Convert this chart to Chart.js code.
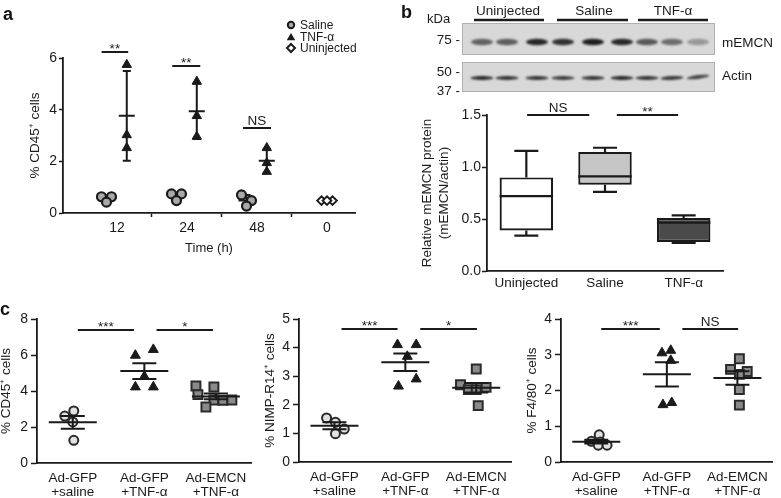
<!DOCTYPE html>
<html><head><meta charset="utf-8">
<script src="https://cdn.jsdelivr.net/npm/chart.js@4.4.1/dist/chart.umd.min.js"></script>
<style>
html,body{margin:0;padding:0;background:#fff;}
body{width:781px;height:498px;position:relative;overflow:hidden;}
canvas{position:absolute;}
.pl{position:absolute;z-index:5;font:bold 18px 'Liberation Sans',Arial,sans-serif;line-height:18px;color:#111;}
</style></head>
<body>
<canvas id="ca" width="390" height="262" style="left:0;top:0;width:390px;height:262px"></canvas>
<canvas id="cb" width="381" height="295" style="left:400px;top:0;width:381px;height:295px"></canvas>
<canvas id="c1" width="260" height="208" style="left:0;top:290px;width:260px;height:208px"></canvas>
<canvas id="c2" width="260" height="208" style="left:260px;top:290px;width:260px;height:208px"></canvas>
<canvas id="c3" width="261" height="208" style="left:520px;top:290px;width:261px;height:208px"></canvas>
<div class="pl" style="left:3px;top:5px">a</div>
<div class="pl" style="left:401px;top:3px">b</div>
<div class="pl" style="left:0px;top:300px">c</div>
<script>
// ---------------- DATA ----------------
// Panel a
const timeLabels = ['12', '24', '48', '0'];
const salineA = [[0.63, 0.63, 0.42], [0.74, 0.74, 0.48], [0.70, 0.48, 0.27], null];
const tnfA = [[5.74, 3.02, 2.52], [5.09, 3.76, 2.96], [2.52, 1.94, 1.60], null];
const uninjectedA = [null, null, null, [0.48, 0.48, 0.48]];
const legendA = ['Saline', 'TNF-α', 'Uninjected'];
const sigA = [
  {from: -0.22, to: 0.16, y: 6.24, text: '**'},
  {from: 0.79, to: 1.19, y: 5.69, text: '**'},
  {from: 1.80, to: 2.20, y: 3.29, text: 'NS'}
];

// Panel b
const boxCats = ['Uninjected', 'Saline', 'TNF-α'];
const boxMin = [0.34, 0.76, 0.27];
const boxQ1 = [0.39, 0.83, 0.28];
const boxMed = [0.72, 0.91, 0.465];
const boxQ3 = [0.90, 1.145, 0.51];
const boxMax = [1.155, 1.185, 0.535];
const sigB = [
  {from: 0.01, to: 0.80, y: 1.5, text: 'NS'},
  {from: 1.15, to: 1.93, y: 1.5, text: '**'}
];
const blotLaneLabels = ['Uninjected', 'Saline', 'TNF-α'];
const blotMarkers = ['75 -', '50 -', '37 -'];
const blotRows = ['mEMCN', 'Actin'];

// Panel c
const groupsC = [['Ad-GFP', '+saline'], ['Ad-GFP', '+TNF-α'], ['Ad-EMCN', '+TNF-α']];
const cd45Saline = [2.89, 2.61, 2.28, 1.26];
const cd45TNF = [6.30, 5.98, 4.81, 4.22, 4.22];
const cd45EMCN = [4.28, 4.22, 3.80, 3.50, 3.48, 3.50, 3.11];
const nimpSaline = [1.54, 1.39, 1.15, 0.99];
const nimpTNF = [4.10, 4.10, 3.69, 2.90, 2.65];
const nimpEMCN = [3.25, 2.70, 2.53, 2.53, 2.61, 1.97];
const f480Saline = [0.76, 0.58, 0.56, 0.47, 0.47];
const f480TNF = [3.05, 3.12, 2.84, 1.60, 1.66];
const f480EMCN = [2.89, 2.59, 2.53, 2.45, 2.03, 1.59];
const sigC1 = [{from: 0.07, to: 0.855, y: 7.37, text: '***'}, {from: 1.17, to: 1.96, y: 7.37, text: '*'}];
const sigC2 = [{from: 0.10, to: 0.89, y: 4.65, text: '***'}, {from: 1.21, to: 2.01, y: 4.65, text: '*'}];
const sigC3 = [{from: 0.07, to: 0.90, y: 3.72, text: '***'}, {from: 1.22, to: 2.01, y: 3.72, text: 'NS'}];

// ---------------- STYLE ----------------
const FONT = "'Liberation Sans', Arial, Helvetica, sans-serif";
const INK = '#1a1a1a';
Chart.defaults.font.family = FONT;
Chart.defaults.font.size = 13;
Chart.defaults.color = INK;
Chart.defaults.animation = false;
Chart.defaults.plugins.legend.display = false;
Chart.defaults.plugins.tooltip.enabled = false;

// horizontal jitter patterns (px) used only for drawing
const jitA = [-5, 5, 0];
const jitC1 = [[1, -8, 0, 1], [9, -9, 0, -9, 9], [-20, -2, -18, -2, 7, 16, -10]];
const jitC2 = [[-8, 1, 10, 1], [-8, 11, 2, 11, -7], [0, -16, -8, 0, 10, 2]];
const jitC3 = [[3, -5, 4, 2, 11], [-5, 4, 4, -4, 5], [2, -7, 10, 2, 2, 2]];

const mean = a => a.reduce((s, v) => s + v, 0) / a.length;
const sd = a => { const m = mean(a); return Math.sqrt(a.reduce((s, v) => s + (v - m) * (v - m), 0) / (a.length - 1)); };

function sigPlugin(list) {
  return {
    id: 'sig',
    afterDatasetsDraw(chart) {
      const {ctx, scales: {x, y}} = chart;
      ctx.save();
      ctx.strokeStyle = INK; ctx.fillStyle = INK; ctx.lineWidth = 2;
      list.forEach(s => {
        const x1 = x.getPixelForValue(s.from), x2 = x.getPixelForValue(s.to), yy = Math.round(y.getPixelForValue(s.y));
        ctx.beginPath(); ctx.moveTo(x1, yy); ctx.lineTo(x2, yy); ctx.stroke();
        ctx.font = '13.5px ' + FONT; ctx.textAlign = 'center'; ctx.textBaseline = 'alphabetic';
        const star = s.text.indexOf('*') >= 0;
        ctx.fillText(s.text, (x1 + x2) / 2, star ? yy + 1 : yy - 3);
      });
      ctx.restore();
    }
  };
}

function errPlugin(groups, when, halfMean, halfCap, useSem) {
  const hook = when === 'before' ? 'beforeDatasetsDraw' : 'afterDatasetsDraw';
  const p = {id: 'err'};
  p[hook] = function (chart) {
    const {ctx, scales: {x, y}} = chart;
    ctx.save(); ctx.strokeStyle = INK; ctx.lineWidth = 2;
    groups.forEach(g => {
      if (!g.vals) return;
      const m = mean(g.vals);
      let e = sd(g.vals); if (useSem) e = e / Math.sqrt(g.vals.length);
      const cx = x.getPixelForValue(g.x);
      const ym = y.getPixelForValue(m), yt = y.getPixelForValue(m + e), yb = y.getPixelForValue(m - e);
      ctx.beginPath();
      ctx.moveTo(cx, yt); ctx.lineTo(cx, yb);
      ctx.moveTo(cx - halfCap, yt); ctx.lineTo(cx + halfCap, yt);
      ctx.moveTo(cx - halfCap, yb); ctx.lineTo(cx + halfCap, yb);
      ctx.moveTo(cx - halfMean, ym); ctx.lineTo(cx + halfMean, ym);
      ctx.stroke();
    });
    ctx.restore();
  };
  return p;
}

// ---------------- PANEL A ----------------
(function () {
  const PX = 70; // px per group unit
  const offS = -0.15, offT = 0.14, offU = 0;
  function pts(groups, off, jit) {
    const out = [];
    groups.forEach((vals, gi) => { if (!vals) return; vals.forEach((v, k) => out.push({x: gi + off + (jit ? jit[k % jit.length] / PX : 0), y: v})); });
    return out;
  }
  const errGroups = [];
  salineA.forEach((v, i) => errGroups.push({x: i + offS, vals: v}));
  tnfA.forEach((v, i) => errGroups.push({x: i + offT, vals: v}));
  uninjectedA.forEach((v, i) => errGroups.push({x: i + offU, vals: v}));

  const legendPlugin = {
    id: 'legA',
    afterDraw(chart) {
      const ctx = chart.ctx;
      ctx.save();
      const rows = [25, 37, 48], sx = 291;
      ctx.lineWidth = 2; ctx.strokeStyle = INK;
      ctx.beginPath(); ctx.arc(sx, rows[0], 3.2, 0, Math.PI * 2); ctx.fillStyle = '#aaa'; ctx.fill(); ctx.stroke();
      ctx.beginPath(); ctx.moveTo(sx, rows[1] - 4); ctx.lineTo(sx + 4.3, rows[1] + 3.2); ctx.lineTo(sx - 4.3, rows[1] + 3.2); ctx.closePath(); ctx.fillStyle = INK; ctx.fill();
      ctx.beginPath(); ctx.moveTo(sx, rows[2] - 4); ctx.lineTo(sx + 4, rows[2]); ctx.lineTo(sx, rows[2] + 4); ctx.lineTo(sx - 4, rows[2]); ctx.closePath(); ctx.fillStyle = '#fff'; ctx.fill(); ctx.stroke();
      ctx.fillStyle = INK; ctx.font = '12px ' + FONT; ctx.textAlign = 'left'; ctx.textBaseline = 'middle';
      legendA.forEach((t, i) => ctx.fillText(t, sx + 9, rows[i] + 0.5));
      ctx.restore();
    }
  };

  new Chart(document.getElementById('ca'), {
    type: 'scatter',
    data: {
      datasets: [
        {data: pts(salineA, offS, jitA), pointStyle: 'circle', radius: 4.5, backgroundColor: '#a8a8a8', borderColor: INK, borderWidth: 2.2, clip: false},
        {data: pts(tnfA, offT, null), pointStyle: 'triangle', radius: 5.4, backgroundColor: INK, borderColor: INK, borderWidth: 1, clip: false},
        {data: pts(uninjectedA, offU, jitA.map(j => j * 1.1)), pointStyle: 'rectRot', radius: 4.3, backgroundColor: '#fff', borderColor: INK, borderWidth: 2, clip: false}
      ]
    },
    options: {
      responsive: false, devicePixelRatio: 1,
      layout: {padding: {left: 0, top: 58, right: 35, bottom: 0}},
      scales: {
        x: {
          type: 'linear', min: -0.771, max: 3.4,
          afterBuildTicks: s => { s.ticks = [0, 0.5, 1, 1.5, 2, 2.5, 3].map(v => ({value: v})); },
          afterFit: s => { s.height = 49; },
          ticks: {autoSkip: false, maxRotation: 0, padding: 3, font: {size: 14}, callback: v => Number.isInteger(v) ? timeLabels[v] : ''},
          grid: {display: true, drawOnChartArea: false, drawTicks: true, tickLength: 4, tickWidth: 1.5,
                 tickColor: c => (c.tick && !Number.isInteger(c.tick.value)) ? INK : 'rgba(0,0,0,0)'},
          border: {display: true, color: INK, width: 1.8},
          title: {display: true, text: 'Time (h)', font: {size: 13}, padding: {top: 0, bottom: 6}}
        },
        y: {
          min: 0, max: 6,
          afterFit: s => { s.width = 63; },
          ticks: {stepSize: 2, padding: 2, font: {size: 14}},
          grid: {display: true, drawOnChartArea: false, drawTicks: true, tickLength: 4, tickWidth: 1.5, tickColor: INK},
          border: {display: true, color: INK, width: 1.8},
          title: {display: true, text: '% CD45⁺ cells', font: {size: 13.5, lineHeight: 1.0}, padding: {top: 29, bottom: 0}}
        }
      }
    },
    plugins: [errPlugin(errGroups, 'before', 8, 4, false), sigPlugin(sigA), legendPlugin]
  });
})();

// ---------------- PANEL B ----------------
(function () {
  const laneX = [82, 107, 137, 163, 193, 222, 247, 272, 298];
  const bandMEMCN = [0.6, 0.62, 0.9, 0.85, 0.95, 0.9, 0.65, 0.55, 0.32];
  const bandActin = [0.9, 0.85, 0.85, 0.8, 0.85, 0.9, 0.85, 0.8, 0.75];
  const blotPlugin = {
    id: 'blot',
    beforeDraw(chart) {
      const ctx = chart.ctx;
      ctx.save();
      [[62, 23, 253, 32], [62, 62, 253, 30]].forEach(r => {
        ctx.fillStyle = '#d8d8d8'; ctx.fillRect(r[0], r[1], r[2], r[3]);
        ctx.strokeStyle = '#b0b0b0'; ctx.lineWidth = 1; ctx.strokeRect(r[0] + 0.5, r[1] + 0.5, r[2] - 1, r[3] - 1);
      });
      ctx.filter = 'blur(1.1px)';
      laneX.forEach((x, i) => {
        ctx.fillStyle = 'rgba(20,20,20,' + bandMEMCN[i] + ')';
        ctx.beginPath(); ctx.ellipse(x, 42, 11, 3.3, 0, 0, Math.PI * 2); ctx.fill();
        ctx.fillStyle = 'rgba(20,20,20,' + bandActin[i] + ')';
        ctx.beginPath(); ctx.ellipse(x, 78 - (i === 8 ? 1 : 0), 11.5, 1.9, i === 8 ? -0.12 : (i === 7 ? -0.05 : 0), 0, Math.PI * 2); ctx.fill();
      });
      ctx.filter = 'none';
      ctx.fillStyle = INK; ctx.font = '13px ' + FONT; ctx.textBaseline = 'alphabetic';
      ctx.textAlign = 'left'; ctx.fillText('kDa', 27, 23);
      ctx.font = '13.5px ' + FONT;
      ctx.textAlign = 'center';
      const centers = [108, 194, 273];
      const lines = [[74, 144], [157, 228], [238, 308]];
      blotLaneLabels.forEach((t, i) => ctx.fillText(t, centers[i], 15));
      ctx.strokeStyle = INK; ctx.lineWidth = 2.5;
      lines.forEach(l => { ctx.beginPath(); ctx.moveTo(l[0], 20); ctx.lineTo(l[1], 20); ctx.stroke(); });
      ctx.textAlign = 'right';
      [43.5, 76, 94.5].forEach((yy, i) => ctx.fillText(blotMarkers[i], 60, yy));
      ctx.textAlign = 'left';
      ctx.fillText(blotRows[0], 322, 46.5);
      ctx.fillText(blotRows[1], 322, 80);
      ctx.restore();
    }
  };
  const boxPlugin = {
    id: 'box',
    afterDatasetsDraw(chart) {
      const {ctx, scales: {x, y}} = chart;
      const meta = chart.getDatasetMeta(0);
      ctx.save(); ctx.strokeStyle = INK; ctx.lineWidth = 2.2;
      boxCats.forEach((c, i) => {
        const el = meta.data[i];
        const cx = x.getPixelForValue(i), hw = el.width / 2, cap = 12;
        const yMin = y.getPixelForValue(boxMin[i]), yMax = y.getPixelForValue(boxMax[i]);
        const yQ1 = y.getPixelForValue(boxQ1[i]), yQ3 = y.getPixelForValue(boxQ3[i]), yMd = y.getPixelForValue(boxMed[i]);
        ctx.beginPath();
        ctx.moveTo(cx, yQ3); ctx.lineTo(cx, yMax);
        ctx.moveTo(cx - cap, yMax); ctx.lineTo(cx + cap, yMax);
        ctx.moveTo(cx, yQ1); ctx.lineTo(cx, yMin);
        ctx.moveTo(cx - cap, yMin); ctx.lineTo(cx + cap, yMin);
        ctx.moveTo(cx - hw, yMd); ctx.lineTo(cx + hw, yMd);
        ctx.stroke();
      });
      ctx.restore();
    }
  };
  new Chart(document.getElementById('cb'), {
    type: 'bar',
    data: {
      labels: boxCats,
      datasets: [{
        data: boxQ1.map((q, i) => [q, boxQ3[i]]),
        backgroundColor: ['#ffffff', '#c6c6c6', '#4a4a4a'],
        borderColor: INK, borderWidth: 2.2, borderSkipped: false,
        barPercentage: 0.68, categoryPercentage: 1.0
      }]
    },
    options: {
      responsive: false, devicePixelRatio: 1,
      layout: {padding: {left: 0, top: 115, right: 58, bottom: 0}},
      scales: {
        x: {
          afterFit: s => { s.height = 24; },
          ticks: {padding: 4, font: {size: 13.5}, maxRotation: 0},
          grid: {display: true, drawOnChartArea: false, drawTicks: false},
          border: {display: true, color: INK, width: 1.8}
        },
        y: {
          min: 0, max: 1.5,
          afterFit: s => { s.width = 87; },
          ticks: {stepSize: 0.5, padding: 1, font: {size: 14}, callback: v => v.toFixed(1)},
          grid: {display: true, drawOnChartArea: false, drawTicks: true, tickLength: 5, tickWidth: 1.5, tickColor: INK},
          border: {display: true, color: INK, width: 1.8},
          title: {display: true, text: ['Relative mEMCN protein', '(mEMCN/actin)'], font: {size: 13.5, lineHeight: 1.25}, padding: {top: 19, bottom: 0}}
        }
      }
    },
    plugins: [blotPlugin, boxPlugin, sigPlugin(sigB)]
  });
})();

// ---------------- PANEL C ----------------
function makeC(id, area, W, H, yMax, step, series, jit, sig, title, titlePad) {
  const unitPx = (area.r - area.l) / 3;
  const styles = [
    {pointStyle: 'circle', radius: 4.5, backgroundColor: '#e2e2e2', borderColor: '#2a2a2a', borderWidth: 2},
    {pointStyle: 'triangle', radius: 5.7, backgroundColor: INK, borderColor: INK, borderWidth: 1},
    {pointStyle: 'rect', radius: 6.3, backgroundColor: '#8a8a8a', borderColor: '#2a2a2a', borderWidth: 2}
  ];
  const datasets = series.map((vals, gi) => Object.assign({
    data: vals.map((v, k) => ({x: gi + jit[gi][k] / unitPx, y: v})), clip: false
  }, styles[gi]));
  const errGroups = series.map((vals, gi) => ({x: gi, vals}));
  new Chart(document.getElementById(id), {
    type: 'scatter',
    data: {datasets},
    options: {
      responsive: false, devicePixelRatio: 1,
      layout: {padding: {left: 0, top: area.t, right: W - area.r, bottom: 0}},
      scales: {
        x: {
          type: 'linear', min: -0.5, max: 2.5,
          afterBuildTicks: s => { s.ticks = [0, 1, 2].map(v => ({value: v})); },
          afterFit: s => { s.height = H - area.b; },
          ticks: {autoSkip: false, maxRotation: 0, padding: 8, font: {size: 13.5, lineHeight: 1.05}, callback: v => groupsC[v]},
          grid: {display: true, drawOnChartArea: false, drawTicks: false},
          border: {display: true, color: INK, width: 1.8}
        },
        y: {
          min: 0, max: yMax,
          afterFit: s => { s.width = area.l; },
          ticks: {stepSize: step, padding: 3, font: {size: 14}},
          grid: {display: true, drawOnChartArea: false, drawTicks: true, tickLength: 6, tickWidth: 1.5, tickColor: INK},
          border: {display: true, color: INK, width: 1.8},
          title: {display: true, text: title, font: {size: 13.5, lineHeight: 1.0}, padding: {top: titlePad, bottom: 0}}
        }
      }
    },
    plugins: [errPlugin(errGroups, 'after', 24, 12, true), sigPlugin(sig)]
  });
}
makeC('c1', {l: 37, t: 29, r: 252, b: 173}, 260, 208, 8, 2, [cd45Saline, cd45TNF, cd45EMCN], jitC1, sigC1, '% CD45⁺ cells', 0);
makeC('c2', {l: 39, t: 29, r: 255, b: 172}, 260, 208, 5, 1, [nimpSaline, nimpTNF, nimpEMCN], jitC2, sigC2, '% NIMP-R14⁺ cells', 4);
makeC('c3', {l: 41, t: 29, r: 257, b: 172}, 261, 208, 4, 1, [f480Saline, f480TNF, f480EMCN], jitC3, sigC3, '% F4/80⁺ cells', 6);
</script>
</body></html>
